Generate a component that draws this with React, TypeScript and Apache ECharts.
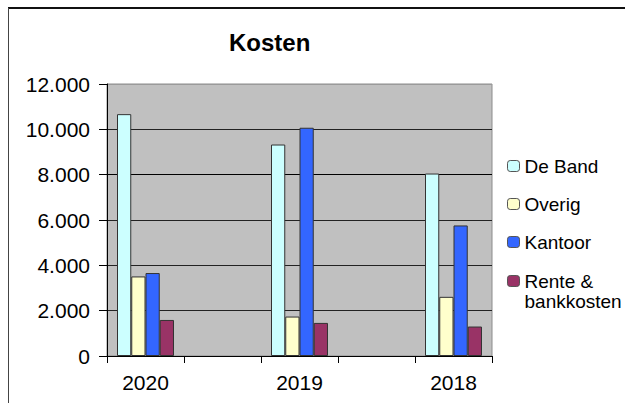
import React, { useEffect, useRef } from "react";
import * as echarts from "echarts";

const categories = ["2020", "", "2019", "", "2018"];
const deBand = [10670, "-", 9330, "-", 8050];
const overig = [3510, "-", 1740, "-", 2610];
const kantoor = [3660, "-", 10070, "-", 5760];
const rente = [1590, "-", 1460, "-", 1300];
const seriesNames = ["De Band", "Overig", "Kantoor", "Rente & bankkosten"];
const colors = ["#ccffff", "#ffffcc", "#3366ff", "#993366"];

const FONT = "'Liberation Sans', Arial, Helvetica, sans-serif";

export default function App() {
  const ref = useRef<HTMLDivElement>(null);
  useEffect(() => {
    if (!ref.current) return;
    const chart = echarts.init(ref.current, undefined, { renderer: "svg" });
    const values = [deBand, overig, kantoor, rente];
    chart.setOption({
      animation: false,
      backgroundColor: "#ffffff",
      textStyle: { fontFamily: FONT, color: "#000" },
      title: {
        text: "Kosten",
        left: 229,
        top: 30,
        padding: 0,
        textStyle: { fontFamily: FONT, fontSize: 24, fontWeight: "bold", color: "#000" },
      },
      legend: [
        {
          data: seriesNames.slice(0, 3),
          orient: "vertical",
          left: 507,
          top: 156,
          padding: 0,
          itemGap: 18,
          itemWidth: 12,
          itemHeight: 11,
          itemStyle: { borderColor: "#555", borderWidth: 1 },
          textStyle: { fontFamily: FONT, fontSize: 19, color: "#000", lineHeight: 20 },
        },
        {
          data: [seriesNames[3]],
          orient: "vertical",
          left: 507,
          top: 251,
          padding: 0,
          itemWidth: 12,
          itemHeight: 11,
          itemStyle: { borderColor: "#555", borderWidth: 1 },
          formatter: () => " \nRente &\nbankkosten",
          textStyle: { fontFamily: FONT, fontSize: 19, color: "#000", lineHeight: 20 },
        },
      ],
      grid: {
        left: 107,
        right: 133,
        top: 84,
        bottom: 47,
        show: true,
        backgroundColor: "#c0c0c0",
        borderColor: "#8c8c8c",
        borderWidth: 1,
      },
      xAxis: {
        type: "category",
        data: categories,
        axisLine: { show: true, lineStyle: { color: "#000", width: 1 } },
        axisTick: { show: true, length: 7, alignWithLabel: false, lineStyle: { color: "#000" } },
        axisLabel: { fontFamily: FONT, fontSize: 21, color: "#000", margin: 16, interval: 0 },
        splitLine: { show: false },
      },
      yAxis: {
        type: "value",
        min: 0,
        max: 12000,
        interval: 2000,
        axisLine: { show: true, lineStyle: { color: "#000", width: 1 } },
        axisTick: { show: true, length: 8, lineStyle: { color: "#000" } },
        axisLabel: {
          fontFamily: FONT,
          fontSize: 21,
          color: "#000",
          margin: 17,
          formatter: (v: number) => (v === 0 ? "0" : `${v / 1000}.000`),
        },
        splitLine: {
          show: true,
          lineStyle: { color: ["#000", "#222", "#222", "#222", "#000", "#222", "#9a9a9a"], width: 1 },
        },
      },
      series: seriesNames.map((name, i) => ({
        name,
        type: "bar",
        data: values[i],
        barGap: "0%",
        barCategoryGap: "26%",
        itemStyle: { color: colors[i], borderColor: "#333", borderWidth: 1 },
      })),
      graphic: [
        { type: "line", shape: { x1: 8, y1: 8, x2: 625, y2: 8 }, style: { stroke: "#111", lineWidth: 2 } },
        { type: "line", shape: { x1: 8.5, y1: 8, x2: 8.5, y2: 403 }, style: { stroke: "#444", lineWidth: 1 } },
      ],
    });
    return () => chart.dispose();
  }, []);
  return <div ref={ref} style={{ position: "fixed", left: 0, top: 0, width: 625, height: 403 }} />;
}
